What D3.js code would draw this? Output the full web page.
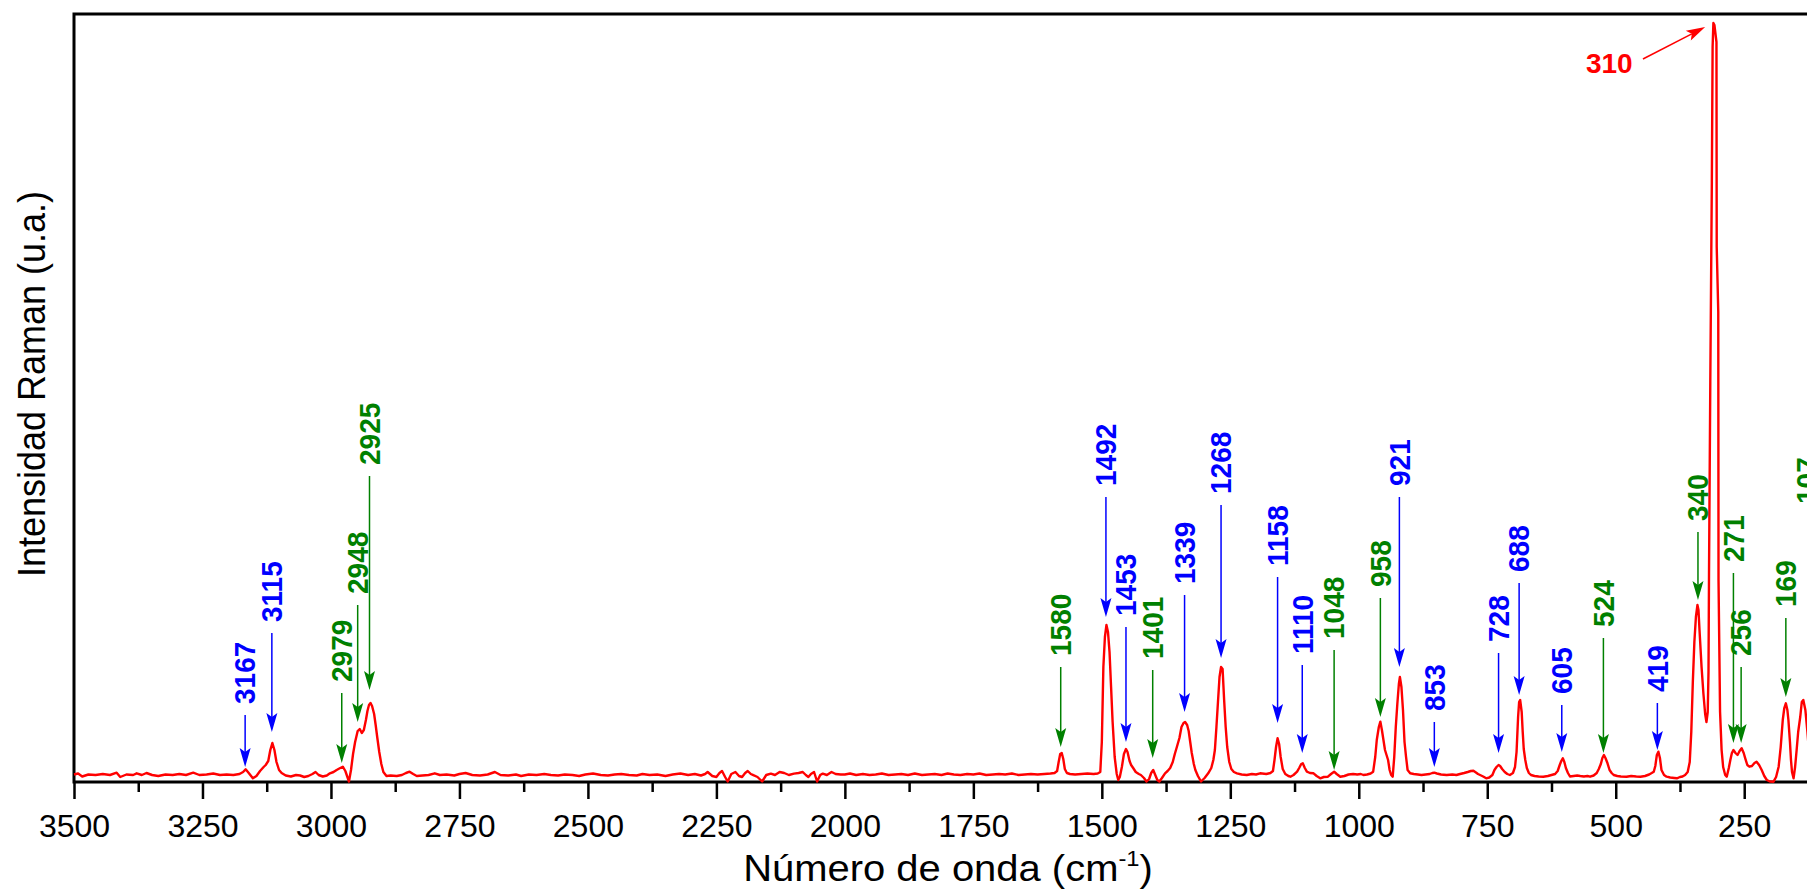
<!DOCTYPE html>
<html>
<head>
<meta charset="utf-8">
<script src="https://cdn.jsdelivr.net/npm/d3@7"></script>
<style>
  html, body { margin: 0; padding: 0; background: #ffffff; overflow: hidden; }
  svg { display: block; }
</style>
</head>
<body>
<svg id="chart" width="1807" height="891"></svg>
<script>
// Raman spectrum: [wavenumber (cm-1), intensity (a.u.)]
const spectrum = [
  [3500,7.5],[3492,8.5],[3484,5.5],[3472,7.5],[3458,7],[3444,8],[3430,7],[3417,9.3],[3410,5],[3398,7.5],
  [3385,7],[3378,8.7],[3368,7],[3359,9],[3348,7],[3336,6],[3322,7.5],[3308,7],[3295,8],[3282,7],
  [3268,9.3],[3256,7],[3242,7.5],[3229,8.5],[3216,7],[3203,7.5],[3190,7],[3178,8],[3171,10],[3166,12.7],
  [3160,9],[3152,3.7],[3145,6],[3138,11],[3131,15],[3127,17],[3122,21],[3118,32],[3114,39],[3110,32],
  [3106,20],[3101,12],[3096,9],[3088,6.5],[3078,5.5],[3068,7],[3060,6.5],[3052,5],[3044,6],[3036,8],
  [3030,10],[3024,7],[3016,5.5],[3008,6.5],[3002,8.7],[2995,10],[2989,12],[2982,14],[2977,15.3],[2972,11],
  [2968,5],[2965,0.5],[2961,12],[2957,28],[2953,40],[2948,51],[2944,53],[2940,49],[2936,52],[2932,62],
  [2929,71],[2926,77],[2923,79],[2920,76],[2916,68],[2913,57],[2910,45],[2906,30],[2902,18],[2898,10],
  [2892,6],[2884,6.5],[2872,6],[2862,7],[2854,9],[2847,10.3],[2840,8],[2833,6],[2822,6.5],[2810,7],
  [2798,8.7],[2788,7],[2775,7.5],[2760,6.5],[2750,8],[2738,9],[2725,7],[2710,6.5],[2695,7.5],[2681,10],
  [2670,7],[2655,6.5],[2640,7.5],[2630,6],[2615,7.5],[2600,7],[2585,8],[2572,7],[2558,6.5],[2545,7.5],
  [2530,7],[2517,6],[2505,7.5],[2490,8.5],[2475,7],[2461,6.5],[2448,7.5],[2435,8],[2420,7],[2405,6.5],
  [2394,8],[2380,7],[2365,7.5],[2349,6],[2335,7.5],[2320,8.5],[2305,7],[2292,8],[2280,6.5],[2272,8],
  [2267,10],[2258,6],[2250,5],[2244,9],[2239,11],[2233,5],[2228,0.5],[2221,8],[2213,10],[2206,6],
  [2200,5],[2194,9],[2189,11],[2183,8],[2178,6.8],[2170,5],[2161,0.5],[2153,7],[2144,8.4],[2136,7],
  [2127,10],[2118,9],[2109,7],[2099,8.4],[2090,9],[2082,10],[2076,7],[2071,5],[2066,8],[2060,10],
  [2054,0.5],[2048,7],[2043,8.4],[2035,7],[2026,10],[2018,8],[2008,7.5],[2000,7.5],[1990,8.5],[1978,7],
  [1965,8],[1952,7],[1940,7.5],[1928,8.5],[1915,7],[1902,7.5],[1890,8],[1877,7],[1864,8.5],[1850,7],
  [1838,7.5],[1825,8],[1812,7],[1800,8.5],[1788,7.5],[1775,7],[1762,8],[1750,7.5],[1738,8.5],[1725,7],
  [1712,7.5],[1700,8],[1688,7.5],[1675,8.5],[1662,7],[1650,7.5],[1638,8],[1625,7.5],[1612,8],[1600,8.5],
  [1592,9],[1587,11],[1584,20],[1581,28],[1578,29],[1575,23],[1572,13],[1568,9],[1562,8],[1552,7.5],
  [1540,8],[1528,8.5],[1516,8],[1508,8.5],[1503,10],[1500,40],[1497,115],[1494,145],[1491,157],[1488,150],
  [1485,130],[1482,95],[1479,60],[1475,25],[1471,8],[1468,2],[1465,5],[1461,15],[1457,28],[1453,33],
  [1450,30],[1446,21],[1443,17],[1439,14],[1434,10],[1428,8],[1424,7],[1418,4],[1413,0.5],[1408,3],
  [1404,9],[1400,12],[1396,7],[1392,2],[1388,0.5],[1383,4],[1377,8.7],[1372,11],[1367,14],[1362,20],
  [1358,28],[1354,35],[1349,44],[1345,55],[1341,59],[1338,60],[1334,57],[1331,51],[1328,40],[1325,29],
  [1321,18],[1318,12],[1313,6],[1307,0.5],[1300,4],[1293,8.7],[1287,14],[1283,22],[1280,32],[1277,55],
  [1274,80],[1271,105],[1268,115],[1265,113],[1262,82],[1259,55],[1256,35],[1252,20],[1248,13],[1243,10],
  [1237,8.7],[1228,7.5],[1218,7],[1208,8],[1200,7.5],[1192,8.7],[1180,8],[1172,9],[1167,11],[1164,22],
  [1161,35],[1158,43.7],[1155,38],[1152,25],[1148,13],[1143,8],[1137,6],[1133,5.3],[1127,7],[1120,10.3],
  [1116,14],[1112,18],[1109,18.7],[1105,14],[1101,10.3],[1095,9],[1088,8.7],[1082,6],[1075,3.7],[1068,5],
  [1060,5.3],[1054,8],[1048,10.3],[1043,8],[1036,5.3],[1028,6],[1020,7.5],[1011,8],[1003,7.5],[996,8],
  [991,7],[984,7.5],[977,8.5],[972,10.3],[968,25],[965,42],[961,55],[958,60.3],[955,52],[952,42],
  [949,32],[946,27],[943,22],[940,12],[937,7],[934,5.3],[931,25],[928,55],[925,78],[922,98],
  [920,105],[917,95],[914,72],[911,40],[908,25],[905,12],[900,8.7],[893,8],[885,7.5],[878,7],
  [870,7.5],[862,8],[857,9],[853,9.3],[848,8.5],[840,7.5],[829,7],[818,7.5],[810,7],[803,8],
  [795,9],[788,10],[782,11],[777,11.3],[772,9.5],[768,8],[764,7],[758,5.5],[752,3.7],[746,4.5],
  [740,7],[736,12],[732,15],[728,17],[725,16],[721,13],[716,10],[711,8],[706,7],[700,9],
  [696,15],[693,30],[690,65],[688,80],[686,82],[683,70],[681,50],[679,33],[676,22],[673,14],
  [669,9],[665,7],[658,6],[650,5.5],[641,5.3],[632,6],[625,7],[618,8],[613,11],[609,17],
  [606,21],[603,23.7],[600,20],[597,14],[593,9],[589,5.5],[582,6],[575,6.5],[569,6],[562,5.5],
  [555,6],[550,5.3],[543,6.5],[537,9],[533,13],[529,18],[526,24],[523,27],[520,24],[516,18.7],
  [512,12],[508,9],[504,7],[497,6],[490,5.5],[479,5.3],[470,6],[460,5.5],[452,5.3],[443,6],
  [435,7.5],[430,9],[426,10.3],[423,16],[420,27],[417,30.3],[414,24],[411,12],[406,7],[401,5.3],
  [394,4.5],[386,4],[381,3.7],[375,5],[370,5.5],[365,7],[360,10],[356,20],[353,50],[350,100],
  [347,140],[344,165],[341,177],[339,172],[337,152],[333,115],[329.5,89],[326,68],[323.5,60],[321,70],
  [319.5,110],[318.5,209],[316,400],[313,600],[311.5,735],[310,759],[308,757],[304,740],[303.5,535],[300.5,470],
  [300,202],[297,70],[294,32],[291,15],[287,7],[284,5.3],[280,14],[277,22],[274,29],[271,32],
  [267,29],[263,27],[259,31],[255,33.7],[251,29],[248,23.7],[244,17],[240,15.3],[235,16],[230,19],
  [226,20.3],[221,17],[216,12],[211,6],[206,2],[200,0.5],[193,0.3],[188,5],[183,15.3],[179,35],
  [175,62],[172,74],[169,78.7],[166,72],[164,62],[161,40],[159,22],[157,10],[154,3.7],[151,15],
  [148,32],[145,50],[141,65],[138,80],[135,82],[131,72],[127,50],[123,25],[118,15]
];

// Assigned bands: wavenumber, group (A = blue, B = green), arrow tail and tip intensities
const bandWavenumbers = [3167,3115,2979,2948,2925,1580,1492,1453,1401,1339,1268,1158,1110,1048,958,921,853,728,688,605,524,419,340,271,256,169,107];
const bandGroups      = ["A","A","B","B","B","B","A","A","B","A","A","A","A","B","B","A","A","A","A","A","B","A","B","B","B","B","B"];
const arrowTail       = [67,149,89,177,306,115,285,155,112,187,277,205,117,132,184,285,60,129,199,77,144,79,250,209,115,164,267];
const arrowTip        = [15,50,19,60,92,35,165,40,24,70,124,59,29,12,65,115,15,29,87,30,29,32,182,39,39,85,92];

// Strongest band, labelled with a slanted arrow: [wavenumber, intensity]
const mainBand      = 310;
const mainLabelAt   = [558, 709];
const mainArrowFrom = [447, 723];
const mainArrowTo   = [326, 755];

// Axis ticks
const xTickValues      = [3500,3250,3000,2750,2500,2250,2000,1750,1500,1250,1000,750,500,250];
const xMinorTickValues = [3375,3125,2875,2625,2375,2125,1875,1625,1375,1125,875,625,375,125];

const xTitle = "Número de onda (cm";
const xTitleSup = "-1";
const yTitle = "Intensidad Raman (u.a.)";

// ---------------------------------------------------------------
const FONT = "'Liberation Sans', Arial, Helvetica, sans-serif";
const groupColor = { A: "#0000ff", B: "#008000" };
const lineColor = "#ff0000";
const labelNudgePx = { 107: -11 };

const svg = d3.select("#chart");

const x = d3.scaleLinear().domain([3500, 50]).range([74, 1847]);
const y = d3.scaleLinear().domain([0, 768]).range([782, 14]);

const [x0, x1] = x.range();
const [yb, yt] = y.range();

// plot frame
svg.append("rect")
  .attr("x", x0).attr("y", yt)
  .attr("width", x1 - x0).attr("height", yb - yt)
  .attr("fill", "none").attr("stroke", "#000").attr("stroke-width", 3);

// bottom axis, major ticks with labels
const gx = svg.append("g")
  .attr("transform", `translate(0,${yb})`)
  .call(d3.axisBottom(x).tickValues(xTickValues).tickSize(17).tickPadding(15)
        .tickSizeOuter(0).tickFormat(d3.format("d")))
  .attr("font-family", FONT).attr("font-size", 32);
gx.select(".domain").remove();
gx.selectAll(".tick line").attr("stroke", "#000").attr("stroke-width", 2.5);
gx.selectAll(".tick text").attr("fill", "#000");

// minor ticks
const gxm = svg.append("g")
  .attr("transform", `translate(0,${yb})`)
  .call(d3.axisBottom(x).tickValues(xMinorTickValues).tickSize(10).tickSizeOuter(0).tickFormat(() => ""));
gxm.select(".domain").remove();
gxm.selectAll(".tick line").attr("stroke", "#000").attr("stroke-width", 2.5);

// axis titles
const xt = svg.append("g")
  .attr("transform", `translate(${(x0 + 1822) / 2},881) scale(1.08,1)`)
  .append("text")
  .attr("text-anchor", "middle")
  .attr("font-family", FONT).attr("font-size", 37).attr("fill", "#000");
xt.append("tspan").text(xTitle);
xt.append("tspan").attr("font-size", 22).attr("dy", -15).text(xTitleSup);
xt.append("tspan").attr("dy", 15).text(")");

svg.append("g")
  .attr("transform", `translate(45,${(yb + yt) / 2 - 14}) scale(1.08,1) rotate(-90)`)
  .append("text")
  .attr("text-anchor", "middle")
  .attr("font-family", FONT).attr("font-size", 36).attr("fill", "#000")
  .text(yTitle);

// spectrum trace
const line = d3.line()
  .x(d => x(d[0]))
  .y(d => y(d[1]));

svg.append("path")
  .datum(spectrum)
  .attr("d", line)
  .attr("fill", "none")
  .attr("stroke", lineColor)
  .attr("stroke-width", 2.4)
  .attr("stroke-linejoin", "round");

// arrow head pointing along +y, tip at origin
const HEAD_LEN = 19, HEAD_NOTCH = 15, HEAD_HALF = 5.5;
const headPath = `M0,0 L${-HEAD_HALF},${-HEAD_LEN} L0,${-HEAD_NOTCH} L${HEAD_HALF},${-HEAD_LEN} Z`;

// band annotations
const bands = bandWavenumbers.map((v, i) => ({
  v, group: bandGroups[i], tail: arrowTail[i], tip: arrowTip[i]
}));

const gb = svg.append("g").attr("class", "bands");
const band = gb.selectAll("g.band").data(bands).join("g").attr("class", "band");

band.append("line")
  .attr("x1", d => x(d.v)).attr("x2", d => x(d.v))
  .attr("y1", d => y(d.tail)).attr("y2", d => y(d.tip) - HEAD_NOTCH)
  .attr("stroke", d => groupColor[d.group]).attr("stroke-width", 1.5);

band.append("path")
  .attr("d", headPath)
  .attr("transform", d => `translate(${x(d.v)},${y(d.tip)})`)
  .attr("fill", d => groupColor[d.group]);

band.append("text")
  .attr("transform", d => `translate(${x(d.v) + (labelNudgePx[d.v] || 0)},${y(d.tail) - 11}) scale(1.06,1) rotate(-90)`)
  .attr("text-anchor", "start")
  .attr("dominant-baseline", "central")
  .attr("font-family", FONT).attr("font-size", 28).attr("font-weight", "bold")
  .attr("fill", d => groupColor[d.group])
  .text(d => d.v);

// strongest band: label with slanted arrow
const ax1 = x(mainArrowFrom[0]), ay1 = y(mainArrowFrom[1]);
const ax2 = x(mainArrowTo[0]),   ay2 = y(mainArrowTo[1]);
const ang = Math.atan2(ay2 - ay1, ax2 - ax1);
const deg = ang * 180 / Math.PI - 90;

svg.append("line")
  .attr("x1", ax1).attr("y1", ay1)
  .attr("x2", ax2 - HEAD_NOTCH * Math.cos(ang)).attr("y2", ay2 - HEAD_NOTCH * Math.sin(ang))
  .attr("stroke", lineColor).attr("stroke-width", 1.5);
svg.append("path")
  .attr("d", headPath)
  .attr("transform", `translate(${ax2},${ay2}) rotate(${deg})`)
  .attr("fill", lineColor);
svg.append("text")
  .attr("x", x(mainLabelAt[0])).attr("y", y(mainLabelAt[1]))
  .attr("font-family", FONT).attr("font-size", 28).attr("font-weight", "bold")
  .attr("fill", lineColor)
  .text(mainBand);
</script>
</body>
</html>
